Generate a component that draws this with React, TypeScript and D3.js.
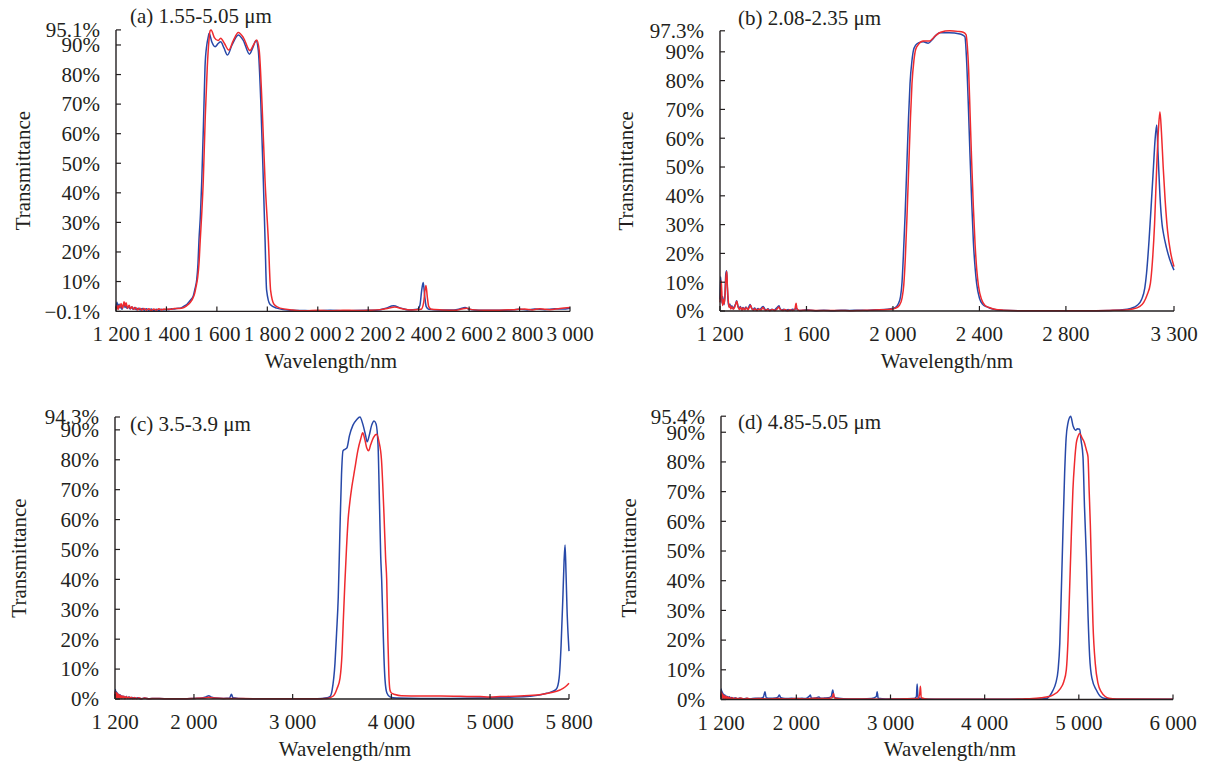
import React from "react";
import * as d3 from "d3";

type Pt = [number, number];

// ---- panel (a) 1.55-5.05 um ----
const aXTicks = [1200, 1400, 1600, 1800, 2000, 2200, 2400, 2600, 2800, 3000];
const aYTicks = [-0.1, 10, 20, 30, 40, 50, 60, 70, 80, 90, 95.1];
const aBlue: Pt[] = [
  [1200, 1.2], [1204, 3.0], [1208, 0.8], [1212, 2.4], [1216, 1.0], [1220, 2.0], [1224, 0.6], [1228, 1.8],
  [1232, 2.6], [1236, 1.2], [1240, 2.2], [1244, 0.9], [1250, 1.6], [1256, 0.7], [1262, 1.4], [1268, 0.6],
  [1274, 1.2], [1280, 0.5], [1288, 1.0], [1296, 0.4], [1304, 0.9], [1312, 0.3], [1320, 0.8], [1330, 0.3],
  [1340, 0.7], [1350, 0.2], [1360, 0.6], [1370, 0.3], [1380, 0.6], [1390, 0.4], [1400, 0.6], [1410, 0.5],
  [1420, 0.8], [1430, 0.7], [1440, 0.9], [1454, 1.0], [1470, 1.7], [1480, 2.2], [1490, 3.2], [1500, 4.2],
  [1506, 5], [1513, 7.5], [1520, 10.6], [1525, 16], [1529, 24], [1535, 33], [1540, 44], [1547, 64],
  [1553, 82.7], [1560, 90], [1566, 92.8], [1569, 94], [1580, 91], [1593, 89.4], [1605, 90.5], [1615, 91.1],
  [1628, 89], [1642, 86.6], [1660, 90], [1685, 93.4], [1705, 91.5], [1729, 86.9], [1742, 89], [1755, 91.5],
  [1764, 88.3], [1774, 71], [1784, 44.4], [1791, 24], [1797, 7.2], [1811, 2.2], [1837, 1], [1890, 0.3],
  [1950, 0.2], [2000, 0.1], [2050, 0.3], [2100, 0.1], [2150, 0.2], [2200, 0.3], [2240, 0.4], [2270, 1.0],
  [2300, 1.8], [2330, 1.0], [2360, 0.4], [2395, 0.6], [2405, 2], [2412, 7], [2418, 9.7], [2424, 5],
  [2430, 1.5], [2440, 0.6], [2480, 0.4], [2540, 0.4], [2565, 0.8], [2584, 1.2], [2600, 0.6], [2640, 0.3],
  [2700, 0.3], [2760, 0.4], [2800, 0.6], [2830, 0.4], [2860, 0.7], [2900, 0.5], [2940, 0.8], [2970, 0.7],
  [3000, 1.0],
];
const aRed: Pt[] = [
  [1200, 0.5], [1204, 1.8], [1208, 0.6], [1212, 2.0], [1216, 1.2], [1220, 2.6], [1226, 1.0], [1232, 3.2],
  [1236, 1.6], [1240, 2.8], [1246, 1.0], [1252, 2.0], [1258, 0.8], [1264, 1.5], [1270, 0.6], [1278, 1.2],
  [1286, 0.4], [1294, 1.0], [1302, 0.3], [1310, 0.9], [1320, 0.3], [1330, 0.8], [1340, 0.2], [1350, 0.7],
  [1360, 0.3], [1370, 0.8], [1380, 0.4], [1390, 0.7], [1400, 0.5], [1410, 0.7], [1420, 0.6], [1430, 0.9],
  [1440, 0.9], [1460, 1.0], [1480, 1.8], [1495, 3.0], [1505, 4.4], [1512, 6.0], [1518, 8.5], [1524, 11.5],
  [1529, 16], [1534, 24], [1540, 33], [1546, 44], [1554, 66], [1562, 82.7], [1568, 91], [1573, 94.8],
  [1577, 95.1], [1590, 92.5], [1605, 91.5], [1615, 92.3], [1630, 90.5], [1647, 88.3], [1665, 91.5],
  [1685, 94.2], [1705, 92.5], [1731, 88.1], [1745, 90], [1758, 91.7], [1768, 88], [1779, 70], [1791, 44],
  [1804, 24], [1813, 7], [1827, 2.2], [1850, 1], [1900, 0.4], [1950, 0.1], [2000, 0.3], [2050, 0.1],
  [2100, 0.3], [2150, 0.2], [2200, 0.3], [2250, 0.5], [2280, 1.0], [2305, 1.4], [2335, 0.8], [2370, 0.4],
  [2410, 0.6], [2420, 3], [2425, 7], [2429, 8.7], [2434, 5], [2440, 1.5], [2450, 0.6], [2490, 0.4],
  [2550, 0.3], [2570, 0.7], [2590, 1.0], [2610, 0.5], [2660, 0.3], [2720, 0.3], [2780, 0.5], [2820, 0.7],
  [2850, 0.4], [2880, 0.8], [2920, 0.5], [2960, 0.9], [3000, 1.2],
];

// ---- panel (b) 2.08-2.35 um ----
const bXTicks = [1200, 1600, 2000, 2400, 2800, 3300];
const bYTicks = [0, 10, 20, 30, 40, 50, 60, 70, 80, 90, 97.3];
const bBlue: Pt[] = [
  [1200, 4], [1203, 11.9], [1206, 7], [1209, 2.8], [1212, 5], [1215, 3.6], [1219, 2.2], [1223, 6],
  [1227, 13], [1231, 14], [1234, 8], [1238, 3], [1242, 1.6], [1246, 2.4], [1250, 0.9], [1255, 1.8],
  [1260, 0.8], [1266, 1.5], [1272, 2.4], [1277, 3.6], [1282, 2.0], [1288, 0.8], [1294, 1.6], [1300, 0.4],
  [1306, 1.2], [1312, 0.6], [1320, 1.4], [1328, 0.5], [1334, 1.5], [1339, 2.3], [1345, 1.2], [1352, 0.4],
  [1360, 1.0], [1368, 0.3], [1376, 0.9], [1384, 0.4], [1392, 1.1], [1400, 1.6], [1406, 0.8], [1414, 0.3],
  [1422, 0.8], [1430, 0.2], [1440, 0.6], [1450, 0.3], [1460, 0.9], [1468, 1.5], [1473, 1.8], [1478, 0.8],
  [1486, 0.3], [1495, 0.6], [1505, 0.2], [1515, 0.5], [1525, 0.2], [1535, 0.6], [1545, 0.4], [1552, 1.2],
  [1558, 0.4], [1570, 0.2], [1600, 0.4], [1640, 0.1], [1680, 0.3], [1720, 0.1], [1760, 0.3], [1800, 0.2],
  [1840, 0.3], [1880, 0.2], [1920, 0.4], [1960, 0.5], [1990, 0.8], [2010, 1.2], [2025, 2.5], [2035, 5],
  [2042, 10], [2048, 18.9], [2056, 33], [2064, 50], [2072, 67], [2079, 79], [2088, 87], [2095, 90.6],
  [2105, 92.3], [2120, 93.2], [2140, 93.5], [2163, 93], [2185, 94.5], [2200, 95.8], [2217, 96.6],
  [2260, 96.6], [2310, 96.2], [2325, 95.7], [2333, 95.2], [2340, 88], [2348, 73], [2356, 55], [2364, 38.5],
  [2372, 24], [2380, 15], [2387, 9.6], [2400, 4.5], [2415, 2.3], [2433, 1.5], [2460, 0.7], [2500, 0.3],
  [2600, 0.1], [2700, 0.1], [2800, 0.1], [2900, 0.1], [3000, 0.2], [3060, 0.4], [3100, 0.9], [3130, 2],
  [3150, 4], [3165, 8], [3173, 13.1], [3185, 25], [3196, 38.5], [3205, 50], [3212, 59], [3220, 64.6],
  [3226, 55], [3235, 40], [3245, 30], [3251, 27], [3265, 22], [3280, 18], [3300, 14.2],
];
const bRed: Pt[] = [
  [1200, 3], [1203, 6], [1206, 10.4], [1209, 5], [1212, 1.9], [1215, 4], [1219, 2.5], [1223, 5],
  [1227, 11], [1231, 13.7], [1234, 9], [1238, 4], [1242, 1.2], [1246, 2], [1250, 0.7], [1256, 1.5],
  [1262, 0.6], [1268, 1.3], [1274, 2.8], [1278, 3.4], [1283, 1.5], [1289, 0.5], [1295, 1.3], [1302, 0.3],
  [1308, 1.0], [1315, 0.4], [1322, 1.2], [1330, 0.4], [1336, 1.3], [1341, 2.0], [1347, 0.9], [1355, 0.3],
  [1363, 0.8], [1371, 0.2], [1380, 0.7], [1390, 0.3], [1398, 1.2], [1404, 0.6], [1412, 0.2], [1420, 0.6],
  [1430, 0.1], [1442, 0.5], [1455, 0.2], [1465, 0.8], [1472, 1.4], [1478, 0.6], [1490, 0.2], [1500, 0.5],
  [1512, 0.1], [1524, 0.4], [1536, 0.2], [1546, 0.6], [1552, 2.7], [1556, 0.8], [1566, 0.2], [1600, 0.3],
  [1640, 0.2], [1680, 0.2], [1720, 0.2], [1760, 0.2], [1800, 0.1], [1850, 0.2], [1900, 0.3], [1950, 0.4],
  [1990, 0.6], [2010, 0.9], [2030, 2], [2042, 4.5], [2050, 9], [2057, 18], [2065, 33], [2073, 50],
  [2081, 67], [2088, 79], [2097, 87], [2105, 90.8], [2118, 92.6], [2140, 93.8], [2170, 93.8], [2195, 95.5],
  [2220, 96.8], [2263, 97.3], [2300, 97.1], [2325, 96.8], [2338, 96.0], [2344, 92], [2350, 84], [2357, 68],
  [2364, 52], [2372, 36], [2380, 23], [2388, 14], [2396, 8.5], [2410, 4], [2425, 2], [2445, 1.2],
  [2470, 0.6], [2510, 0.3], [2600, 0.1], [2700, 0.1], [2800, 0.1], [2900, 0.1], [3000, 0.2], [3060, 0.3],
  [3110, 0.7], [3140, 1.5], [3160, 3], [3175, 5.5], [3191, 9.7], [3200, 17], [3210, 30], [3220, 50],
  [3228, 63], [3235, 69.2], [3242, 62], [3250, 50], [3259, 38.5], [3270, 28], [3285, 20], [3300, 15.4],
];

// ---- panel (c) 3.5-3.9 um ----
const cXTicks = [1200, 2000, 3000, 4000, 5000, 5800];
const cYTicks = [0, 10, 20, 30, 40, 50, 60, 70, 80, 90, 94.3];
const cBlue: Pt[] = [
  [1200, 1.0], [1205, 3.2], [1210, 0.4], [1215, 2.4], [1220, 0.8], [1226, 2.0], [1232, 0.3], [1238, 1.6],
  [1245, 0.6], [1252, 1.4], [1260, 0.3], [1270, 1.1], [1280, 0.4], [1290, 0.9], [1300, 0.2], [1315, 0.8],
  [1330, 0.3], [1345, 0.7], [1360, 0.2], [1380, 0.5], [1400, 0.2], [1430, 0.4], [1460, 0.1], [1500, 0.3],
  [1550, 0.1], [1600, 0.2], [1700, 0.1], [1800, 0.1], [1900, 0.1], [2000, 0.2], [2080, 0.3], [2120, 0.7],
  [2150, 1.1], [2180, 0.6], [2220, 0.3], [2300, 0.2], [2360, 0.3], [2380, 1.6], [2395, 0.4], [2450, 0.2],
  [2600, 0.1], [2800, 0.1], [3000, 0.1], [3200, 0.1], [3300, 0.2], [3350, 0.4], [3378, 0.8], [3400, 3],
  [3429, 12], [3445, 22], [3462, 34], [3478, 55], [3495, 75], [3510, 83], [3530, 83.5], [3550, 84],
  [3575, 88], [3610, 91.5], [3650, 93.5], [3682, 94.3], [3710, 92], [3740, 88], [3755, 86], [3775, 88],
  [3800, 91.5], [3825, 93], [3845, 92], [3865, 85], [3880, 65], [3892, 48], [3902, 39.8], [3915, 25],
  [3925, 14], [3936, 6.4], [3955, 2], [3986, 0.7], [4050, 0.3], [4300, 0.2], [4600, 0.2], [4900, 0.3],
  [5000, 0.4], [5200, 0.6], [5400, 0.9], [5500, 1.3], [5574, 1.9], [5640, 2.6], [5675, 3.5], [5700, 7],
  [5720, 18], [5739, 35], [5750, 46], [5760, 51.5], [5770, 42], [5780, 30], [5790, 22], [5800, 16],
];
const cRed: Pt[] = [
  [1200, 2.5], [1204, 0.3], [1208, 2.0], [1212, 0.5], [1216, 2.2], [1220, 0.2], [1225, 1.8], [1230, 0.6],
  [1235, 1.5], [1240, 0.2], [1246, 1.3], [1252, 0.4], [1258, 1.2], [1264, 0.2], [1272, 1.0], [1280, 0.3],
  [1290, 0.9], [1300, 0.1], [1312, 0.8], [1325, 0.2], [1338, 0.7], [1350, 0.2], [1365, 0.6], [1380, 0.1],
  [1400, 0.5], [1420, 0.1], [1440, 0.4], [1470, 0.1], [1500, 0.3], [1550, 0.1], [1600, 0.2], [1700, 0.1],
  [1800, 0.1], [1900, 0.1], [2000, 0.2], [2100, 0.3], [2150, 0.6], [2200, 0.3], [2300, 0.2], [2400, 0.2],
  [2600, 0.1], [2800, 0.1], [3000, 0.1], [3200, 0.1], [3350, 0.2], [3412, 1], [3450, 3.5], [3480, 7],
  [3500, 15], [3513, 26], [3528, 38], [3545, 50], [3562, 60], [3580, 66], [3600, 71], [3630, 77],
  [3660, 83], [3690, 87], [3710, 89], [3730, 87], [3750, 84], [3770, 83], [3790, 85], [3820, 87.5],
  [3850, 88.5], [3875, 86], [3900, 80], [3925, 62], [3942, 47], [3953, 39.8], [3965, 20], [3975, 8],
  [3986, 3], [4000, 2], [4037, 1.5], [4100, 1.1], [4300, 1.0], [4500, 1.0], [4700, 0.9], [4900, 0.8],
  [5000, 0.7], [5100, 0.8], [5300, 1.0], [5500, 1.4], [5600, 2.0], [5709, 3], [5760, 4], [5800, 5.3],
];

// ---- panel (d) 4.85-5.05 um ----
const dXTicks = [1200, 2000, 3000, 4000, 5000, 6000];
const dYTicks = [0, 10, 20, 30, 40, 50, 60, 70, 80, 90, 95.4];
const dBlue: Pt[] = [
  [1200, 1.5], [1204, 3.5], [1208, 0.5], [1212, 2.8], [1216, 0.6], [1220, 2.2], [1225, 0.3], [1230, 1.8],
  [1236, 0.5], [1242, 1.5], [1248, 0.3], [1255, 1.2], [1262, 0.4], [1270, 1.0], [1280, 0.3], [1290, 0.9],
  [1300, 0.2], [1315, 0.7], [1330, 0.2], [1350, 0.6], [1370, 0.2], [1400, 0.5], [1430, 0.2], [1470, 0.4],
  [1510, 0.2], [1560, 0.4], [1620, 0.4], [1650, 0.8], [1667, 2.6], [1680, 0.6], [1720, 0.4], [1780, 0.5],
  [1805, 0.8], [1820, 1.5], [1835, 0.6], [1880, 0.3], [1950, 0.4], [2000, 0.3], [2060, 0.4], [2100, 0.3],
  [2140, 1.2], [2149, 1.5], [2160, 0.4], [2200, 0.5], [2240, 0.8], [2260, 0.4], [2300, 0.5], [2340, 0.6],
  [2370, 1.0], [2387, 3.2], [2400, 0.8], [2450, 0.4], [2550, 0.2], [2700, 0.2], [2800, 0.3], [2850, 1.0],
  [2858, 2.6], [2870, 0.4], [2950, 0.2], [3100, 0.2], [3250, 0.3], [3275, 1], [3283, 5.2], [3292, 0.6],
  [3350, 0.2], [3600, 0.1], [4000, 0.1], [4400, 0.1], [4600, 0.2], [4652, 0.3], [4690, 1.2], [4724, 3.0],
  [4755, 5.5], [4780, 10], [4798, 19], [4811, 33], [4824, 48], [4849, 76], [4865, 88], [4884, 93],
  [4913, 95.4], [4940, 92], [4966, 90.7], [4985, 91.2], [5008, 91], [5025, 87], [5044, 81.8], [5060, 65],
  [5080, 48], [5098, 28], [5115, 14.4], [5140, 7], [5186, 3.2], [5230, 1], [5280, 0.3], [5400, 0.1],
  [5600, 0.1], [6000, 0.1],
];
const dRed: Pt[] = [
  [1200, 0.8], [1204, 2.6], [1208, 0.3], [1212, 2.0], [1216, 0.8], [1220, 1.6], [1225, 0.2], [1230, 1.4],
  [1236, 0.4], [1242, 1.2], [1250, 0.2], [1258, 1.0], [1266, 0.3], [1275, 0.8], [1285, 0.2], [1296, 0.7],
  [1310, 0.2], [1325, 0.6], [1340, 0.1], [1360, 0.5], [1380, 0.2], [1410, 0.5], [1440, 0.2], [1480, 0.4],
  [1520, 0.2], [1600, 0.3], [1700, 0.2], [1800, 0.3], [1900, 0.2], [2000, 0.3], [2100, 0.2], [2200, 0.4],
  [2300, 0.3], [2380, 0.6], [2395, 2.0], [2405, 0.5], [2500, 0.2], [2700, 0.2], [2900, 0.1], [3100, 0.2],
  [3290, 0.3], [3310, 2], [3318, 4.5], [3326, 0.6], [3400, 0.1], [3800, 0.1], [4200, 0.1], [4400, 0.2],
  [4512, 0.3], [4600, 0.6], [4680, 1.0], [4724, 1.5], [4800, 3.5], [4840, 6], [4867, 10], [4885, 20],
  [4902, 36.9], [4920, 55], [4937, 70.5], [4955, 80], [4973, 86.3], [4990, 88.5], [5008, 89.6], [5035, 88],
  [5061, 86.3], [5080, 84], [5097, 81.8], [5110, 70], [5122, 59], [5136, 42], [5150, 25.7], [5175, 12],
  [5203, 5.5], [5240, 2.5], [5280, 1], [5320, 0.4], [5400, 0.2], [6000, 0.1],
];

const BLUE = "#2748a8";
const RED = "#ef2a2e";
const INK = "#231f20";
const FONT = "'Liberation Serif', 'Times New Roman', serif";
const FS = 21;

const panels = [
  {
    title: "(a) 1.55-5.05 μm", xTicks: aXTicks, yTicks: aYTicks, blue: aBlue, red: aRed,
    left: 116, right: 570, top: 29.9, bottom: 311.4, titleX: 130, titleY: 23, yLabX: 30, xLabX: 331, xLabY: 368,
  },
  {
    title: "(b) 2.08-2.35 μm", xTicks: bXTicks, yTicks: bYTicks, blue: bBlue, red: bRed,
    left: 720, right: 1174, top: 30.8, bottom: 311, titleX: 738, titleY: 25, yLabX: 633, xLabX: 947, xLabY: 368,
  },
  {
    title: "(c) 3.5-3.9 μm", xTicks: cXTicks, yTicks: cYTicks, blue: cBlue, red: cRed,
    left: 115, right: 569, top: 417, bottom: 699, titleX: 130, titleY: 431, yLabX: 26, xLabX: 345, xLabY: 756,
  },
  {
    title: "(d) 4.85-5.05 μm", xTicks: dXTicks, yTicks: dYTicks, blue: dBlue, red: dRed,
    left: 721, right: 1173, top: 416.2, bottom: 699.5, titleX: 738, titleY: 429, yLabX: 636, xLabX: 950, xLabY: 756,
  },
];

const fmtX = (v: number) => d3.format(",")(v).replace(/,/g, " ");
const fmtY = (v: number) => (v < 0 ? "\u2212" + Math.abs(v) : String(v)) + "%";

function Panel({ p }: { p: (typeof panels)[number] }) {
  const xs = p.xTicks;
  const ys = p.yTicks;
  const x = d3.scaleLinear().domain([xs[0], xs[xs.length - 1]]).range([p.left, p.right]);
  const y = d3.scaleLinear().domain([ys[0], ys[ys.length - 1]]).range([p.bottom, p.top]);
  const line = d3
    .line<Pt>()
    .x((d) => x(d[0]))
    .y((d) => y(Math.max(d[1], ys[0])))
    .curve(d3.curveMonotoneX);
  const midY = (p.top + p.bottom) / 2;

  return (
    <g fontFamily={FONT} fill={INK}>
      <path d={line(p.blue) || ""} fill="none" stroke={BLUE} strokeWidth={1.5} />
      <path d={line(p.red) || ""} fill="none" stroke={RED} strokeWidth={1.5} />
      <line x1={p.left} x2={p.right} y1={p.bottom} y2={p.bottom} stroke={INK} strokeWidth={1.4} />
      <line x1={p.left} x2={p.left} y1={p.top} y2={p.bottom} stroke={INK} strokeWidth={1.4} />
      {xs.map((t) => (
        <g key={"x" + t}>
          <line x1={x(t)} x2={x(t)} y1={p.bottom} y2={p.bottom - 5} stroke={INK} strokeWidth={1.2} />
          <text x={x(t)} y={p.bottom + 30} textAnchor="middle" fontSize={FS}>
            {fmtX(t)}
          </text>
        </g>
      ))}
      {ys.map((t) => (
        <g key={"y" + t}>
          <line x1={p.left} x2={p.left + 5} y1={y(t)} y2={y(t)} stroke={INK} strokeWidth={1.2} />
          <text x={p.left - 16} y={y(t)} dy="0.35em" textAnchor="end" fontSize={FS}>
            {fmtY(t)}
          </text>
        </g>
      ))}
      <text x={p.titleX} y={p.titleY} fontSize={FS}>
        {p.title}
      </text>
      <text transform={`translate(${p.yLabX},${midY}) rotate(-90)`} textAnchor="middle" fontSize={FS}>
        Transmittance
      </text>
      <text x={p.xLabX} y={p.xLabY} textAnchor="middle" fontSize={FS}>
        Wavelength/nm
      </text>
    </g>
  );
}

export default function App() {
  return (
    <svg
      width={1208}
      height={764}
      style={{ position: "absolute", left: 0, top: 0, background: "#fff" }}
    >
      {panels.map((p) => (
        <Panel key={p.title} p={p} />
      ))}
    </svg>
  );
}
